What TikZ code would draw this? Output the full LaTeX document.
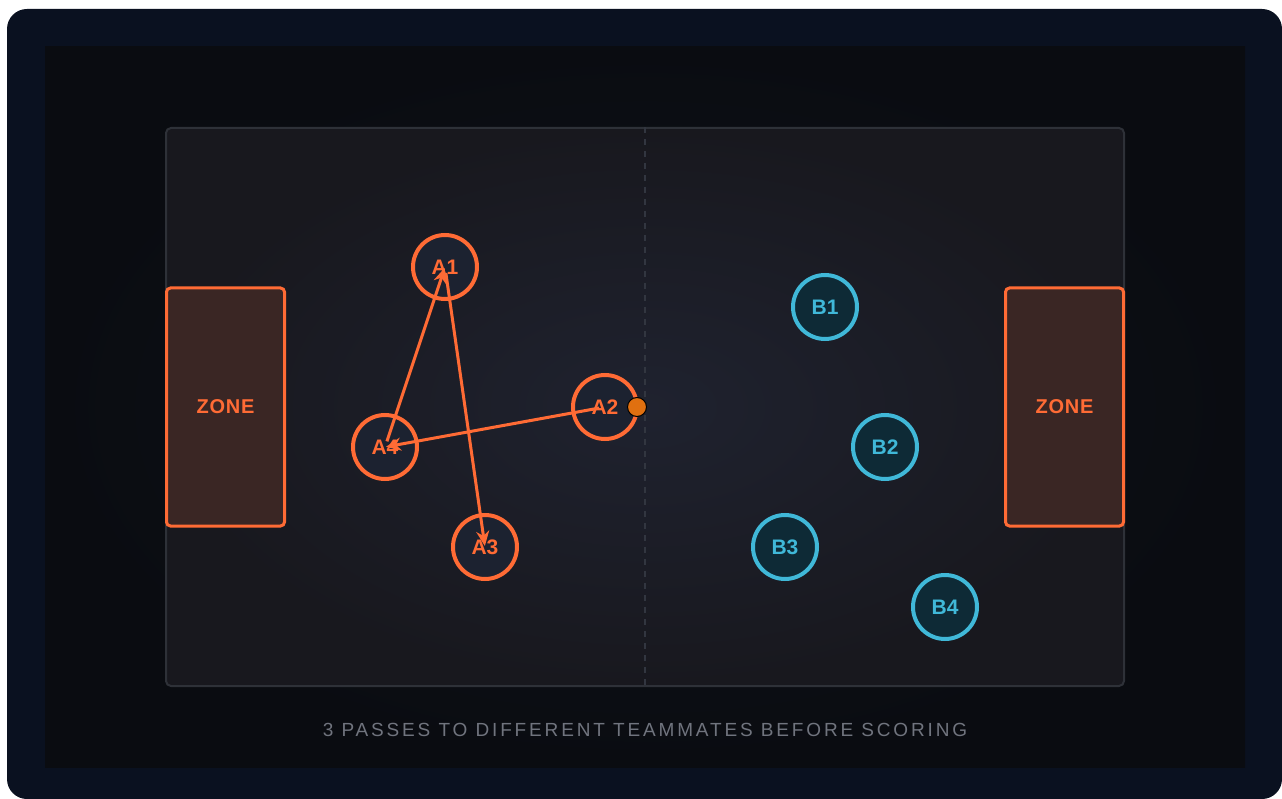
\documentclass[tikz,border=0pt]{standalone}
\usepackage{fontspec}
\setmainfont{Liberation Sans}
\usepackage{tikz}
\usetikzlibrary{arrows.meta, positioning}
\definecolor{outerbg}{RGB}{10,17,32}
\definecolor{innerbg}{RGB}{10,12,17}
\definecolor{innerhi}{RGB}{16,19,27}
\definecolor{fieldhi}{RGB}{31,34,47}
\definecolor{fieldlo}{RGB}{24,24,30}
\definecolor{fieldline}{RGB}{46,49,56}
\definecolor{midline}{RGB}{50,54,64}
\definecolor{teama}{RGB}{255,107,53}
\definecolor{teamafill}{RGB}{28,34,48}
\definecolor{zonefill}{RGB}{58,38,36}
\definecolor{teamb}{RGB}{64,184,216}
\definecolor{teambfill}{RGB}{14,42,54}
\definecolor{ballfill}{RGB}{224,112,16}
\definecolor{capgray}{RGB}{112,116,126}
\tikzset{
  pitch/.style={rectangle, draw=fieldline, line width=2pt,
    inner color=fieldhi, outer color=fieldlo, shade,
    minimum width=958pt, minimum height=558pt, rounded corners=5pt},
  zonebox/.style={rectangle, draw=teama, fill=zonefill,
    minimum width=118pt, minimum height=238pt, rounded corners=4pt,
    line width=3pt, text=teama,
    font=\fontsize{20}{20}\selectfont\bfseries\addfontfeature{LetterSpace=4}},
  player/.style={circle, minimum size=64pt, inner sep=0pt, line width=4pt,
    font=\fontsize{21}{21}\selectfont\bfseries},
  reddot/.style={player, draw=teama, fill=teamafill, text=teama},
  bluedot/.style={player, draw=teamb, fill=teambfill, text=teamb},
  ball/.style={circle, draw=black, fill=ballfill, minimum size=19pt,
    inner sep=0pt, line width=1pt},
  pass/.style={-{Stealth[length=15pt, width=13pt]}, line width=3pt,
    color=teama, shorten <=6pt, shorten >=1pt},
  caption/.style={text=capgray,
    font=\fontsize{19}{19}\selectfont\addfontfeature{LetterSpace=15}}
}
\begin{document}
\begin{tikzpicture}[x=1pt, y=-1pt]
  \fill[white] (0,0) rectangle (1282,799);
  \useasboundingbox (0,0) rectangle (1282,799);
  \fill[outerbg, rounded corners=20pt] (7,9) rectangle (1282,799);
  \shade[inner color=innerhi, outer color=innerbg] (45,47) rectangle (1245,767);

  % pitch
  \node[pitch] (field) at (645,407) {};
  \draw[midline, line width=1.5pt, dash pattern=on 6pt off 6pt]
    (field.north) -- (field.south);
  \node[zonebox] (zl) at (225.5,407) {ZONE};
  \node[zonebox] (zr) at (1064.5,407) {ZONE};

  % team A
  \node[reddot] (a1) at (445,267) {A1};
  \node[reddot] (a2) at (605,407) {A2};
  \node[reddot] (a3) at (485,547) {A3};
  \node[reddot] (a4) at (385,447) {A4};
  \node[ball] (bl) at (637,407) {};

  % team B
  \node[bluedot] (b1) at (825,307) {B1};
  \node[bluedot] (b2) at (885,447) {B2};
  \node[bluedot] (b3) at (785,547) {B3};
  \node[bluedot] (b4) at (945,607) {B4};

  % passes
  \draw[pass] (a2.center) -- (a4.center);
  \draw[pass] (a4.center) -- (a1.center);
  \draw[pass] (a1.center) -- (a3.center);

  \node[caption] (cap) at (645,730) {3 PASSES TO DIFFERENT TEAMMATES BEFORE SCORING};
\end{tikzpicture}
\end{document}
